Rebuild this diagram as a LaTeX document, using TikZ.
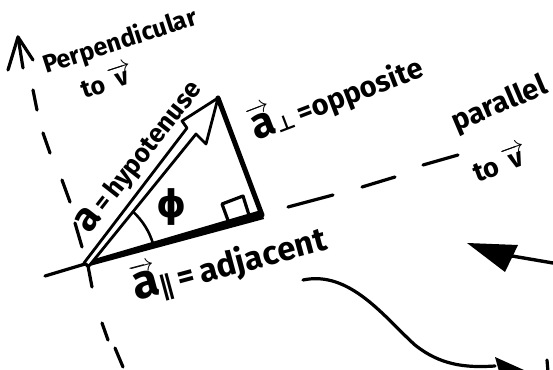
\documentclass[tikz,border=0pt]{standalone}
\usepackage{fontspec}
\setmainfont{Fira Sans}
\newfontfamily\symfont{DejaVu Sans}
\usepackage{amsmath}
\newcommand{\hv}[1]{\ensuremath{\overrightarrow{\mbox{#1}}}}
\newcommand{\subperp}{\raisebox{-0.35ex}{\symfont\bfseries\fontsize{21}{21}\selectfont ⊥}}
\newcommand{\subpar}{\raisebox{-0.45ex}{\symfont\bfseries\fontsize{27}{27}\selectfont ∥}}
\begin{document}
\begin{tikzpicture}[x=1pt,y=-1pt,line cap=round,line join=round,
  ink/.style={draw=black,line width=3.2pt},
  thick ink/.style={draw=black,line width=5pt},
  lab/.style={inner sep=0pt,text=black,font=\bfseries}]
\useasboundingbox (0,0) rectangle (553,369);
\clip (0,0) rectangle (553,369);
\fill[white] (0,0) rectangle (553,369);

% key points
\coordinate (O) at (85,264);
\coordinate (R) at (262,215);
\coordinate (A) at (218,98);

% perpendicular axis (dashed, hand drawn) with arrow on top
\coordinate (pt) at (18,37);
\draw[ink] (pt) -- (23,68);
\draw[ink] (8,70) -- (pt) -- (33,60);
\foreach \a/\b in {{(33,90)/(37,110)},{(43,133)/(50,153)},{(62,180)/(70,202)},{(75,223)/(82,247)},{(88,266)/(92,287)},{(102,323)/(108,340)},{(115,348)/(123,367)}}
  \draw[ink] \a -- \b;

% parallel axis (dashes beyond the right angle)
\foreach \a/\b in {{(288,207)/(333,195)},{(362,187)/(395,177)},{(423,165)/(458,155)}}
  \draw[ink] \a -- \b;

% adjacent side, extension to the left
\draw[ink] (45,276) -- (O);
\fill[black] (84,262) -- (261,210) -- (264,219) -- (86,267) -- cycle;
% opposite side
\draw[thick ink] (A) -- (R);
% right angle mark
\draw[ink] (229,223) -- (222,204) -- (243,196) -- (249,215);
% angle arc
\draw[ink,line width=2.6pt] (O) ++(-17:71) arc[start angle=-17,end angle=-47,radius=71];

% hypotenuse: hollow arrow
\draw[ink,line width=2.8pt,fill=white] (84,263) -- (187,128) -- (182,121) -- (A) -- (206,144) -- (196,134) -- (89,266) -- cycle;

% labels
\node[lab,rotate=18] (perp) at (120,42) {\fontsize{25}{25}\selectfont Perpendicular};
\node[lab,rotate=18] (perpto) at (107,80) {\fontsize{25}{25}\selectfont to \hv{v}};
\node[lab,rotate=52,anchor=base] (hyp) at (146,162) {{\fontsize{40}{40}\selectfont a}{\fontsize{26}{26}\selectfont\,=\,hypotenuse}};
\node[lab,rotate=21] (opp) at (336,96) {{\fontsize{43}{43}\selectfont\hv{a}}\subperp{\fontsize{29}{29}\selectfont\,=opposite}};
\node[lab] (phi) at (172,207) {\symfont\bfseries\fontsize{38}{38}\selectfont ϕ};
\node[lab,rotate=15] (adj) at (229,262) {{\fontsize{48}{48}\selectfont\hv{a}}\subpar{\fontsize{33}{33}\selectfont\,=\,adjacent}};
\node[lab,rotate=23] (par) at (500,105) {\fontsize{29}{29}\selectfont parallel};
\node[lab,rotate=20] (parto) at (500,162) {\fontsize{27}{27}\selectfont to \hv{v}};

% right-hand arrows
\fill[black] (467,243) -- (518,245) -- (505,272) -- cycle;
\draw[ink,line width=3.4pt] (512,256) -- (553,263);
\draw[ink] (303,280) .. controls (350,270) and (385,318) .. (415,345) .. controls (440,365) and (465,368) .. (495,366);
\fill[black] (495,357) -- (500,375) -- (535,375) -- cycle;
\draw[ink] (547,360) -- (548,372);
\end{tikzpicture}
\end{document}
